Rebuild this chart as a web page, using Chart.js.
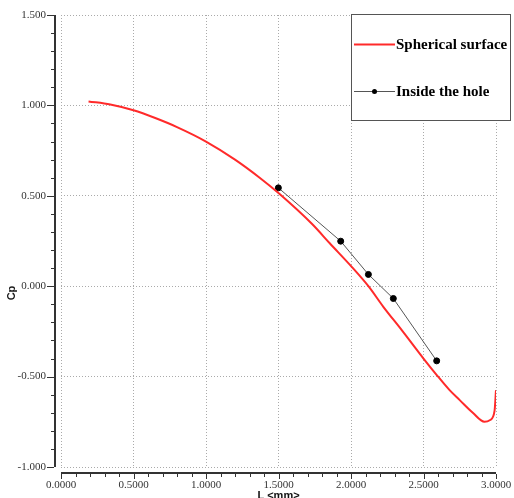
<!DOCTYPE html>
<html><head><meta charset="utf-8">
<script src="https://cdn.jsdelivr.net/npm/chart.js@4"></script>
<style>html,body{margin:0;padding:0;background:#fff;}#wrap{width:514px;height:498px;position:relative;}</style>
</head><body><div id="wrap"><canvas id="c" width="514" height="498"></canvas></div>
<script>
const sphX = [0.19, 0.34, 0.50, 0.65, 0.80, 1.00, 1.20, 1.37, 1.50, 1.73, 1.855, 2.005, 2.12, 2.223, 2.35, 2.50, 2.59, 2.68, 2.75, 2.84, 2.92, 2.96, 2.99, 3.00];
const sphY = [1.022, 1.005, 0.973, 0.930, 0.880, 0.800, 0.700, 0.600, 0.515, 0.345, 0.236, 0.107, 0.000, -0.114, -0.243, -0.400, -0.490, -0.575, -0.630, -0.700, -0.750, -0.740, -0.690, -0.575];
const holeX = [1.499, 1.929, 2.120, 2.292, 2.591];
const holeY = [0.544, 0.249, 0.065, -0.068, -0.413];
const seriesNames = ["Spherical surface", "Inside the hole"];
const xTitle = "L <mm>";
const yTitle = "Cp";

const toPts = (xs, ys) => xs.map((x, i) => ({x: x, y: ys[i]}));

const axesPlugin = {
  id: 'axesDeco',
  afterDraw(chart) {
    const ctx = chart.ctx, xs = chart.scales.x, ys = chart.scales.y, ca = chart.chartArea;
    ctx.save();
    ctx.strokeStyle = '#333';
    ctx.lineWidth = 2;
    ctx.beginPath(); ctx.moveTo(55, ca.top); ctx.lineTo(55, ca.bottom); ctx.stroke();
    ctx.beginPath(); ctx.moveTo(ca.left, 473); ctx.lineTo(ca.right, 473); ctx.stroke();
    ctx.lineWidth = 1;
    for (let k = 0; k <= 25; k++) {
      const v = -1 + k * 0.1;
      const p = Math.round(ys.getPixelForValue(v)) + 0.5;
      const major = k % 5 === 0;
      ctx.beginPath(); ctx.moveTo(54, p); ctx.lineTo(major ? 47 : 51, p); ctx.stroke();
    }
    for (let k = 0; k <= 30; k++) {
      const v = k * 0.1;
      const p = Math.round(xs.getPixelForValue(v)) + 0.5;
      const major = k % 5 === 0;
      ctx.beginPath(); ctx.moveTo(p, 474); ctx.lineTo(p, major ? 479 : 477); ctx.stroke();
    }
    ctx.fillStyle = '#111';
    ctx.font = 'bold 11px "Liberation Sans", Arial, sans-serif';
    ctx.textAlign = 'center'; ctx.textBaseline = 'middle';
    ctx.fillText(xTitle, (ca.left + ca.right) / 2, 496);
    ctx.save();
    ctx.translate(12, 293);
    ctx.rotate(-Math.PI / 2);
    ctx.fillText(yTitle, 0, 0);
    ctx.restore();
    ctx.fillStyle = '#fff';
    ctx.fillRect(351, 14, 160, 106);
    ctx.strokeStyle = '#555';
    ctx.strokeRect(351.5, 14.5, 159, 106);
    const ds = chart.data.datasets;
    const rows = [44.5, 91.5];
    ds.forEach((d, i) => {
      ctx.strokeStyle = d.borderColor; ctx.lineWidth = d.borderWidth;
      ctx.beginPath(); ctx.moveTo(354, rows[i]); ctx.lineTo(395, rows[i]); ctx.stroke();
      if (d.pointRadius > 0) {
        ctx.fillStyle = d.pointBackgroundColor;
        ctx.beginPath(); ctx.arc(374.5, rows[i], 2.5, 0, Math.PI * 2); ctx.fill();
      }
      ctx.fillStyle = '#000';
      ctx.font = 'bold 15px "Liberation Serif", "Times New Roman", serif';
      ctx.textAlign = 'left'; ctx.textBaseline = 'middle';
      ctx.fillText(d.label, 396, rows[i] + 1);
    });
    ctx.restore();
  }
};

const zeroPad = s => { s.paddingTop = 0; s.paddingBottom = 0; s.paddingLeft = 0; s.paddingRight = 0; };

new Chart(document.getElementById('c'), {
  type: 'scatter',
  data: {
    datasets: [
      { label: seriesNames[0], data: toPts(sphX, sphY), showLine: true, borderColor: '#ff2a2a', backgroundColor: '#ff2a2a', borderWidth: 2, pointRadius: 0, cubicInterpolationMode: 'monotone' },
      { label: seriesNames[1], data: toPts(holeX, holeY), showLine: true, borderColor: '#555555', backgroundColor: '#000', pointBackgroundColor: '#000', pointBorderColor: '#000', borderWidth: 1, pointRadius: 3, tension: 0 }
    ]
  },
  options: {
    responsive: false, animation: false,
    layout: { padding: { left: 0, right: 18, top: 15, bottom: 0 } },
    plugins: { legend: { display: false }, tooltip: { enabled: false } },
    scales: {
      x: {
        type: 'linear', min: 0, max: 3,
        afterFit: s => { s.height = 31; zeroPad(s); },
        grid: { color: '#aaa', lineWidth: 1, drawTicks: false },
        border: { display: false, dash: [1, 2] },
        ticks: { stepSize: 0.5, padding: 12, color: '#333', font: { family: '"Liberation Serif", serif', size: 11 }, callback: v => Number(v).toFixed(4), maxRotation: 0 }
      },
      y: {
        type: 'linear', min: -1, max: 1.5,
        afterFit: s => { s.width = 61; zeroPad(s); },
        grid: { color: '#aaa', lineWidth: 1, drawTicks: false },
        border: { display: false, dash: [1, 2] },
        ticks: { stepSize: 0.5, padding: 15, color: '#333', font: { family: '"Liberation Serif", serif', size: 11 }, callback: v => Number(v).toFixed(3) }
      }
    }
  },
  plugins: [axesPlugin]
});
</script></body></html>
